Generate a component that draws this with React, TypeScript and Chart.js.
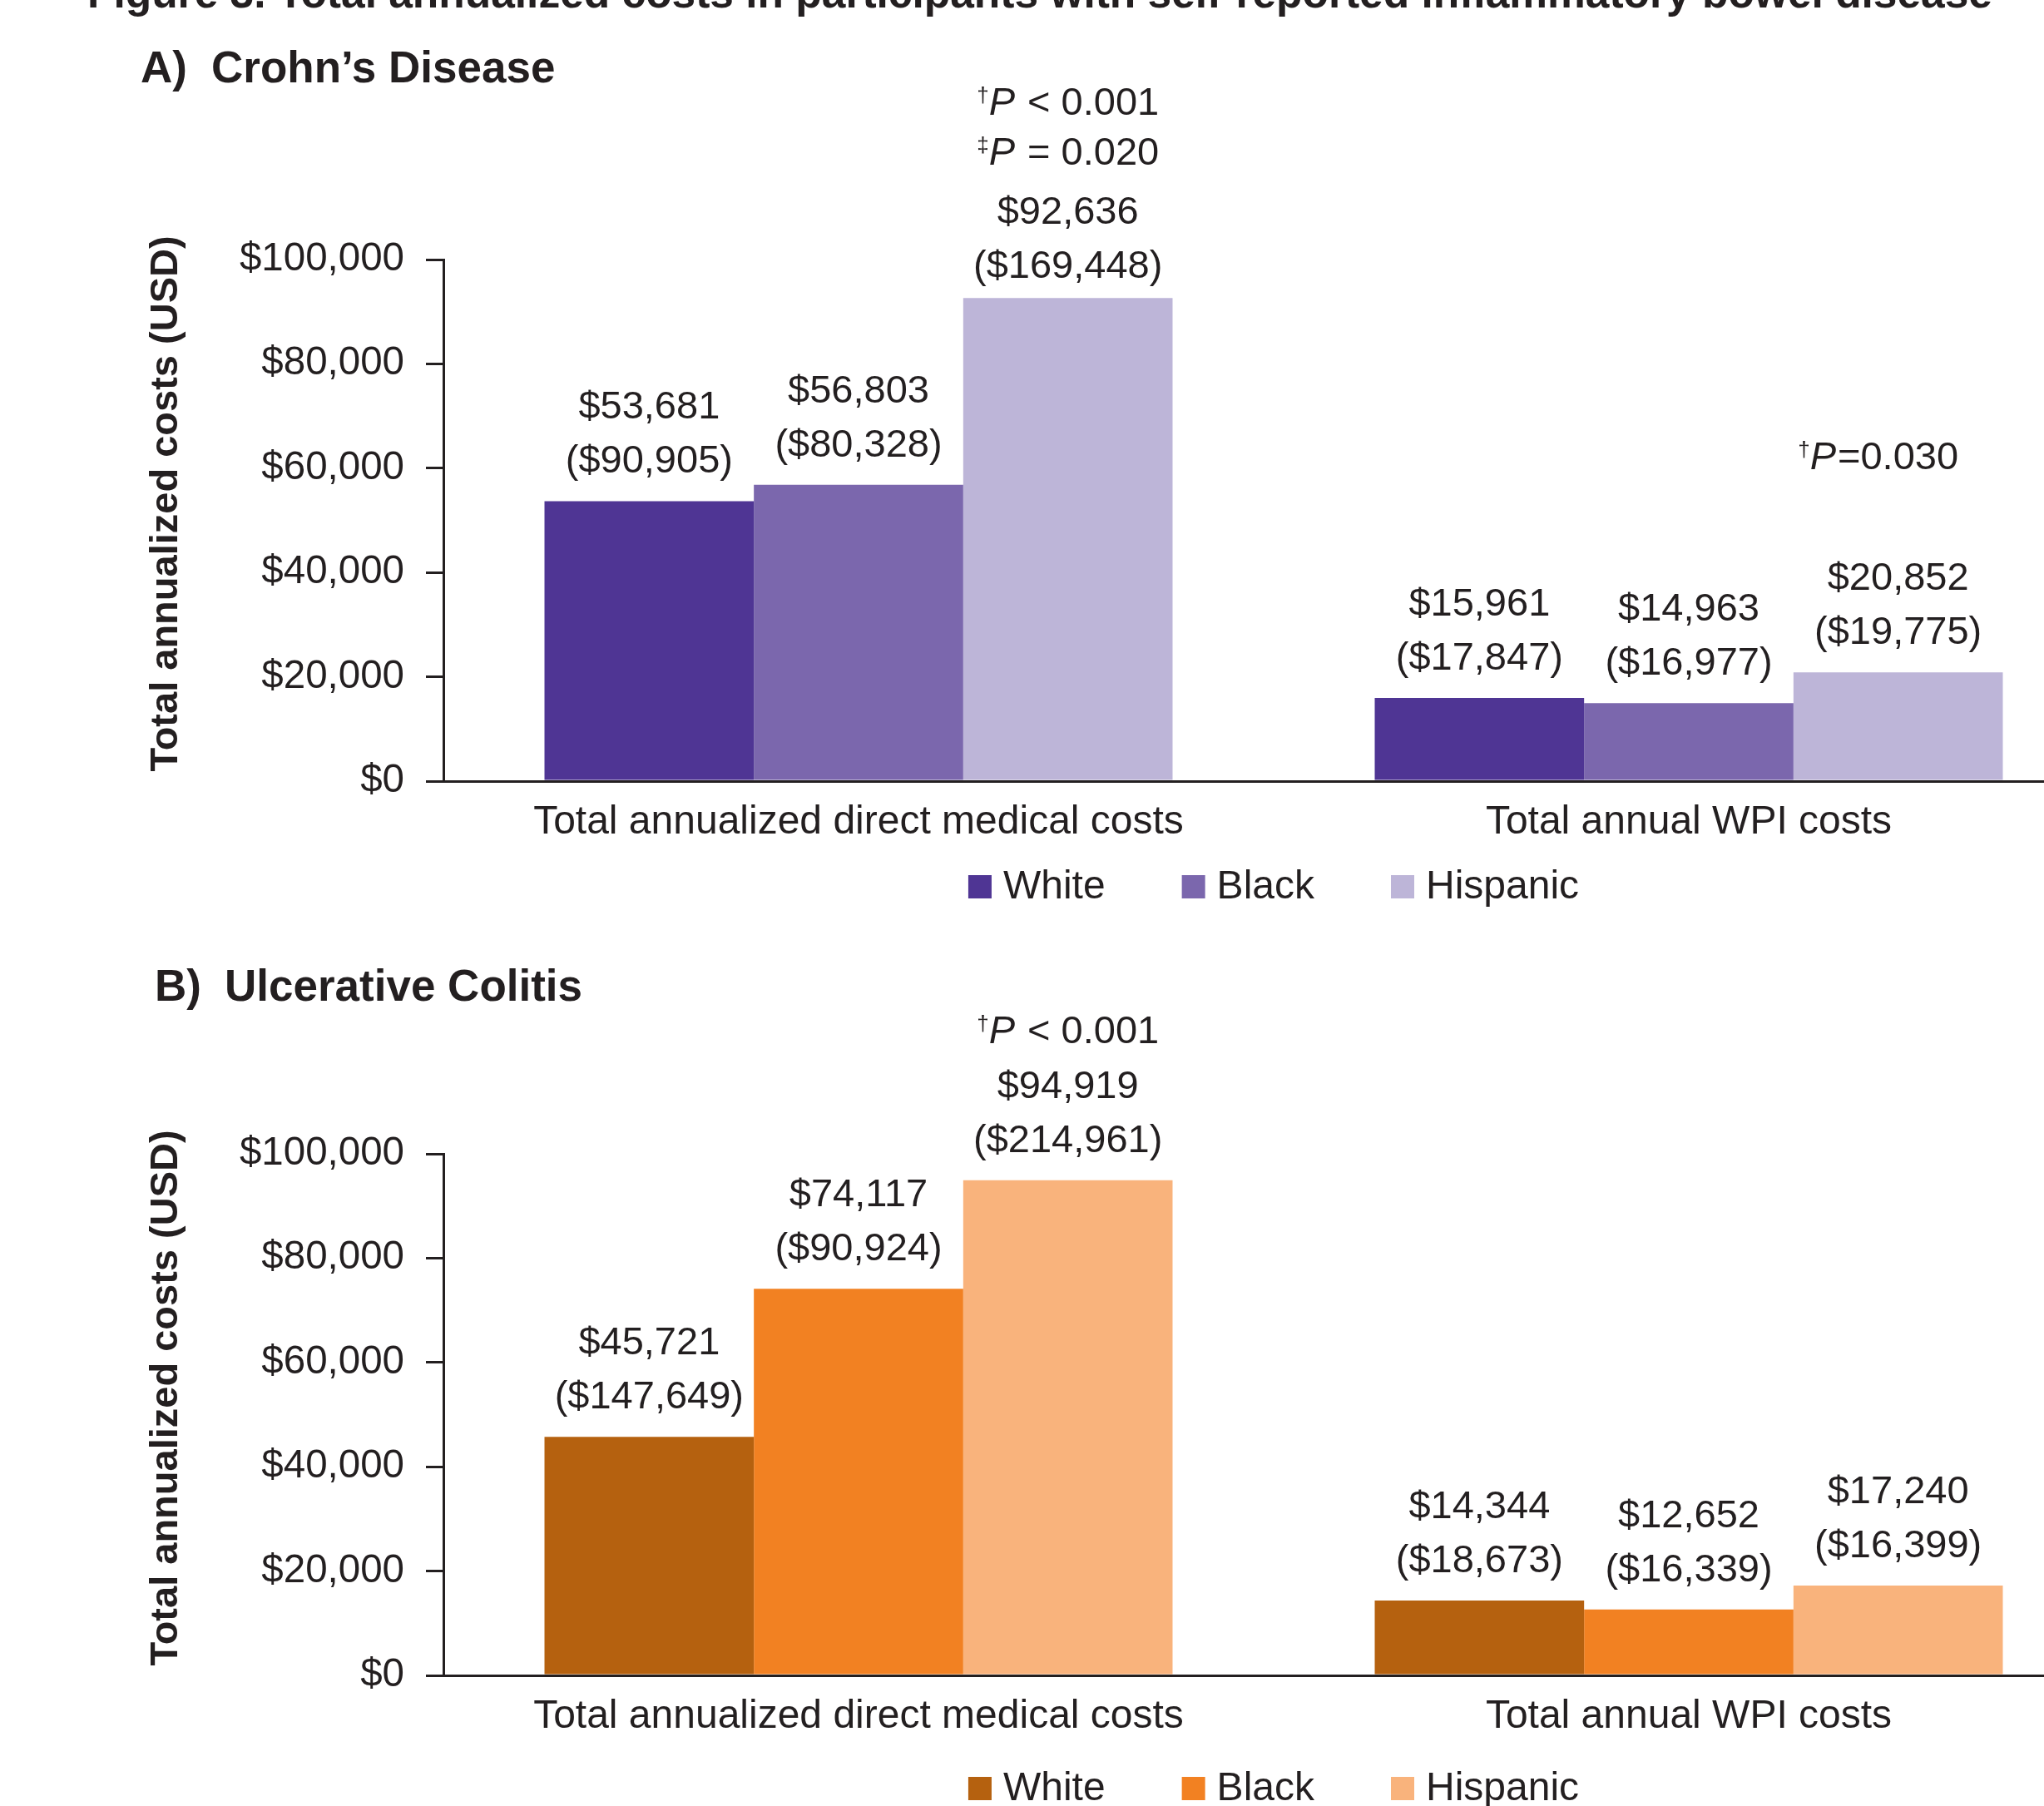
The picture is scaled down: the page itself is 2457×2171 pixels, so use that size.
import React, { useEffect, useRef } from 'react';
import { Chart, registerables } from 'chart.js';

Chart.register(...registerables);

// ---------------- data ----------------
const categories = ['Total annualized direct medical costs', 'Total annual WPI costs'];
const seriesNames = ['White', 'Black', 'Hispanic'];

// Crohn's disease: means and (SD)
const cdWhite = [53681, 15961];
const cdBlack = [56803, 14963];
const cdHispanic = [92636, 20852];
const cdWhiteSD = [90905, 17847];
const cdBlackSD = [80328, 16977];
const cdHispanicSD = [169448, 19775];

// Ulcerative colitis: means and (SD)
const ucWhite = [45721, 14344];
const ucBlack = [74117, 12652];
const ucHispanic = [94919, 17240];
const ucWhiteSD = [147649, 18673];
const ucBlackSD = [90924, 16339];
const ucHispanicSD = [214961, 16399];

const yMin = 0;
const yMax = 100000;
const yStep = 20000;

const cdColors = ['#4f3594', '#7b67ad', '#bdb5d8'];
const ucColors = ['#b5610f', '#f28122', '#f9b37c'];

// p-value notes: category index, dataset index, lines (mark + rest)
const cdNotes = [
  { cat: 0, ds: 2, lines: [{ mark: '\u2020', rest: ' < 0.001' }, { mark: '\u2021', rest: ' = 0.020' }] },
  { cat: 1, ds: 2, lines: [{ mark: '\u2020', rest: '=0.030' }] },
];
const ucNotes = [{ cat: 0, ds: 2, lines: [{ mark: '\u2020', rest: ' < 0.001' }] }];

const figureTitle =
  'Figure 3. Total annualized costs in participants with self-reported inflammatory bowel disease';
const yTitle = 'Total annualized costs (USD)';

// ---------------- layout ----------------
const FONT = "'Liberation Sans', Arial, Helvetica, sans-serif";
const INK = '#231f20';
const PAGE_W = 2457;
const PAGE_H = 2171;
const CANVAS_W = 2560;
const AXIS_X = 533;
const AREA_RIGHT = 2529;
const X_SCALE_H = 80;

type Note = { cat: number; ds: number; lines: { mark: string; rest: string }[] };
type PanelCfg = {
  top: number;
  height: number;
  areaTop: number;
  areaBottom: number;
  tag: string;
  name: string;
  tagX: number;
  nameX: number;
  headY: number;
  legendY: number;
  values: number[][];
  sds: number[][];
  colors: string[];
  notes: Note[];
  noteOffsets: { dy: number; dx: number }[];
  labelShift: { ds: number; cat: number; dy: number }[];
  showTitle: boolean;
};

const panelA: PanelCfg = {
  top: 0,
  height: 1110,
  areaTop: 312,
  areaBottom: 939,
  tag: 'A)',
  name: 'Crohn\u2019s Disease',
  tagX: 169,
  nameX: 254,
  headY: 80,
  legendY: 1066,
  values: [cdWhite, cdBlack, cdHispanic],
  sds: [cdWhiteSD, cdBlackSD, cdHispanicSD],
  colors: cdColors,
  notes: cdNotes,
  noteOffsets: [
    { dy: -176, dx: 0 },
    { dy: -260, dx: -24 },
  ],
  labelShift: [{ ds: 2, cat: 0, dy: 10 }],
  showTitle: true,
};

const panelB: PanelCfg = {
  top: 1110,
  height: 1061,
  areaTop: 277,
  areaBottom: 904,
  tag: 'B)',
  name: 'Ulcerative Colitis',
  tagX: 186,
  nameX: 270,
  headY: 74,
  legendY: 1040,
  values: [ucWhite, ucBlack, ucHispanic],
  sds: [ucWhiteSD, ucBlackSD, ucHispanicSD],
  colors: ucColors,
  notes: ucNotes,
  noteOffsets: [{ dy: -181, dx: 0 }],
  labelShift: [],
  showTitle: false,
};

const fmt = (v: number) => '$' + String(Math.round(v)).replace(/\B(?=(\d{3})+(?!\d))/g, ',');
const f = (size: number, style = '') => `${style} ${size}px ${FONT}`.trim();

function drawPLine(ctx: CanvasRenderingContext2D, cx: number, cy: number, mark: string, rest: string) {
  const sup = f(26);
  const ital = f(47, 'italic');
  const main = f(47);
  ctx.font = sup;
  const w1 = ctx.measureText(mark).width;
  ctx.font = ital;
  const w2 = ctx.measureText('P').width;
  ctx.font = main;
  const w3 = ctx.measureText(rest).width;
  let x = cx - (w1 + w2 + w3 + 2) / 2;
  const base = cy + 16;
  ctx.textAlign = 'left';
  ctx.textBaseline = 'alphabetic';
  ctx.font = sup;
  ctx.fillText(mark, x, base - 15);
  x += w1;
  ctx.font = ital;
  ctx.fillText('P', x, base);
  x += w2 + 2;
  ctx.font = main;
  ctx.fillText(rest, x, base);
}

function annotPlugin(cfg: PanelCfg) {
  return {
    id: 'annot',
    afterDraw(chart: any) {
      const ctx: CanvasRenderingContext2D = chart.ctx;
      const area = chart.chartArea;
      ctx.save();
      ctx.fillStyle = INK;

      // Figure title (cut off at top of the page)
      if (cfg.showTitle) {
        ctx.font = f(52, 'bold');
        ctx.textAlign = 'center';
        ctx.textBaseline = 'alphabetic';
        ctx.fillText(figureTitle, 1250, 9, 2290);
      }

      // Panel heading
      ctx.font = f(53, 'bold');
      ctx.textAlign = 'left';
      ctx.textBaseline = 'alphabetic';
      ctx.fillText(cfg.tag, cfg.tagX, cfg.headY + 19);
      ctx.fillText(cfg.name, cfg.nameX, cfg.headY + 19);

      // Y axis title
      ctx.save();
      ctx.translate(200, (area.top + area.bottom) / 2 - 20);
      ctx.rotate(-Math.PI / 2);
      ctx.font = f(47, 'bold');
      ctx.textAlign = 'center';
      ctx.textBaseline = 'middle';
      ctx.fillText(yTitle, 0, 0);
      ctx.restore();

      // Data labels
      ctx.font = f(47);
      ctx.textAlign = 'center';
      ctx.textBaseline = 'middle';
      cfg.values.forEach((vals, i) => {
        const meta = chart.getDatasetMeta(i);
        vals.forEach((v, j) => {
          const bar = meta.data[j];
          const sh = cfg.labelShift.find((s) => s.ds === i && s.cat === j);
          const y0 = bar.y + (sh ? sh.dy : 0);
          ctx.fillText(fmt(v), bar.x, y0 - 112);
          ctx.fillText('(' + fmt(cfg.sds[i][j]) + ')', bar.x, y0 - 47);
        });
      });

      // P-value notes
      cfg.notes.forEach((n, k) => {
        const bar = chart.getDatasetMeta(n.ds).data[n.cat];
        const off = cfg.noteOffsets[k];
        const count = n.lines.length;
        n.lines.forEach((ln, li) => {
          const y = bar.y + off.dy - (count - 1 - li) * 60;
          drawPLine(ctx, bar.x + off.dx, y, ln.mark, ln.rest);
        });
      });

      // Legend
      ctx.font = f(48);
      const box = 28;
      const gap = 14;
      const spacing = 92;
      const widths = seriesNames.map((s) => ctx.measureText(s).width);
      const total = widths.reduce((a, w) => a + box + gap + w, 0) + spacing * (seriesNames.length - 1);
      let x = (area.left + area.right) / 2 - total / 2;
      seriesNames.forEach((s, i) => {
        ctx.fillStyle = cfg.colors[i];
        ctx.fillRect(x, cfg.legendY - box / 2, box, box);
        ctx.fillStyle = INK;
        ctx.textAlign = 'left';
        ctx.textBaseline = 'middle';
        ctx.fillText(s, x + box + gap, cfg.legendY + 1);
        x += box + gap + widths[i] + spacing;
      });

      ctx.restore();
    },
  };
}

function makeChart(canvas: HTMLCanvasElement, cfg: PanelCfg) {
  const datasets = cfg.values.map((vals, i) => ({
    label: seriesNames[i],
    data: vals,
    backgroundColor: cfg.colors[i],
    borderWidth: 0,
    barPercentage: 1,
    categoryPercentage: 0.7565,
  }));
  return new Chart(canvas, {
    type: 'bar',
    data: { labels: categories, datasets },
    options: {
      animation: false,
      responsive: false,
      devicePixelRatio: 1,
      layout: {
        padding: {
          left: 0,
          top: cfg.areaTop,
          right: CANVAS_W - AREA_RIGHT,
          bottom: cfg.height - cfg.areaBottom - X_SCALE_H,
        },
      },
      plugins: {
        legend: { display: false },
        tooltip: { enabled: false },
        title: { display: false },
      },
      scales: {
        x: {
          grid: { display: false, drawTicks: false },
          border: { display: true, color: INK, width: 3 },
          ticks: { font: { family: FONT, size: 48 }, color: INK, padding: 21 },
          afterFit: (s: any) => {
            s.height = X_SCALE_H;
          },
        },
        y: {
          min: yMin,
          max: yMax,
          ticks: {
            stepSize: yStep,
            callback: (v: any) => fmt(Number(v)),
            font: { family: FONT, size: 47.5 },
            color: INK,
            padding: 26,
          },
          grid: { drawOnChartArea: false, drawTicks: true, tickLength: 21, color: INK, lineWidth: 3 },
          border: { display: true, color: INK, width: 3 },
          afterFit: (s: any) => {
            s.width = AXIS_X;
          },
        },
      },
    } as any,
    plugins: [annotPlugin(cfg)],
  });
}

function Panel({ cfg }: { cfg: PanelCfg }) {
  const ref = useRef<HTMLCanvasElement>(null);
  useEffect(() => {
    const chart = makeChart(ref.current as HTMLCanvasElement, cfg);
    return () => chart.destroy();
  }, [cfg]);
  return (
    <canvas
      ref={ref}
      width={CANVAS_W}
      height={cfg.height}
      style={{ position: 'absolute', left: 0, top: cfg.top, width: CANVAS_W, height: cfg.height }}
    />
  );
}

export default function App() {
  useEffect(() => {
    document.body.style.margin = '0';
  }, []);
  return (
    <div style={{ position: 'relative', width: PAGE_W, height: PAGE_H, overflow: 'hidden', background: '#fff' }}>
      <Panel cfg={panelA} />
      <Panel cfg={panelB} />
    </div>
  );
}
